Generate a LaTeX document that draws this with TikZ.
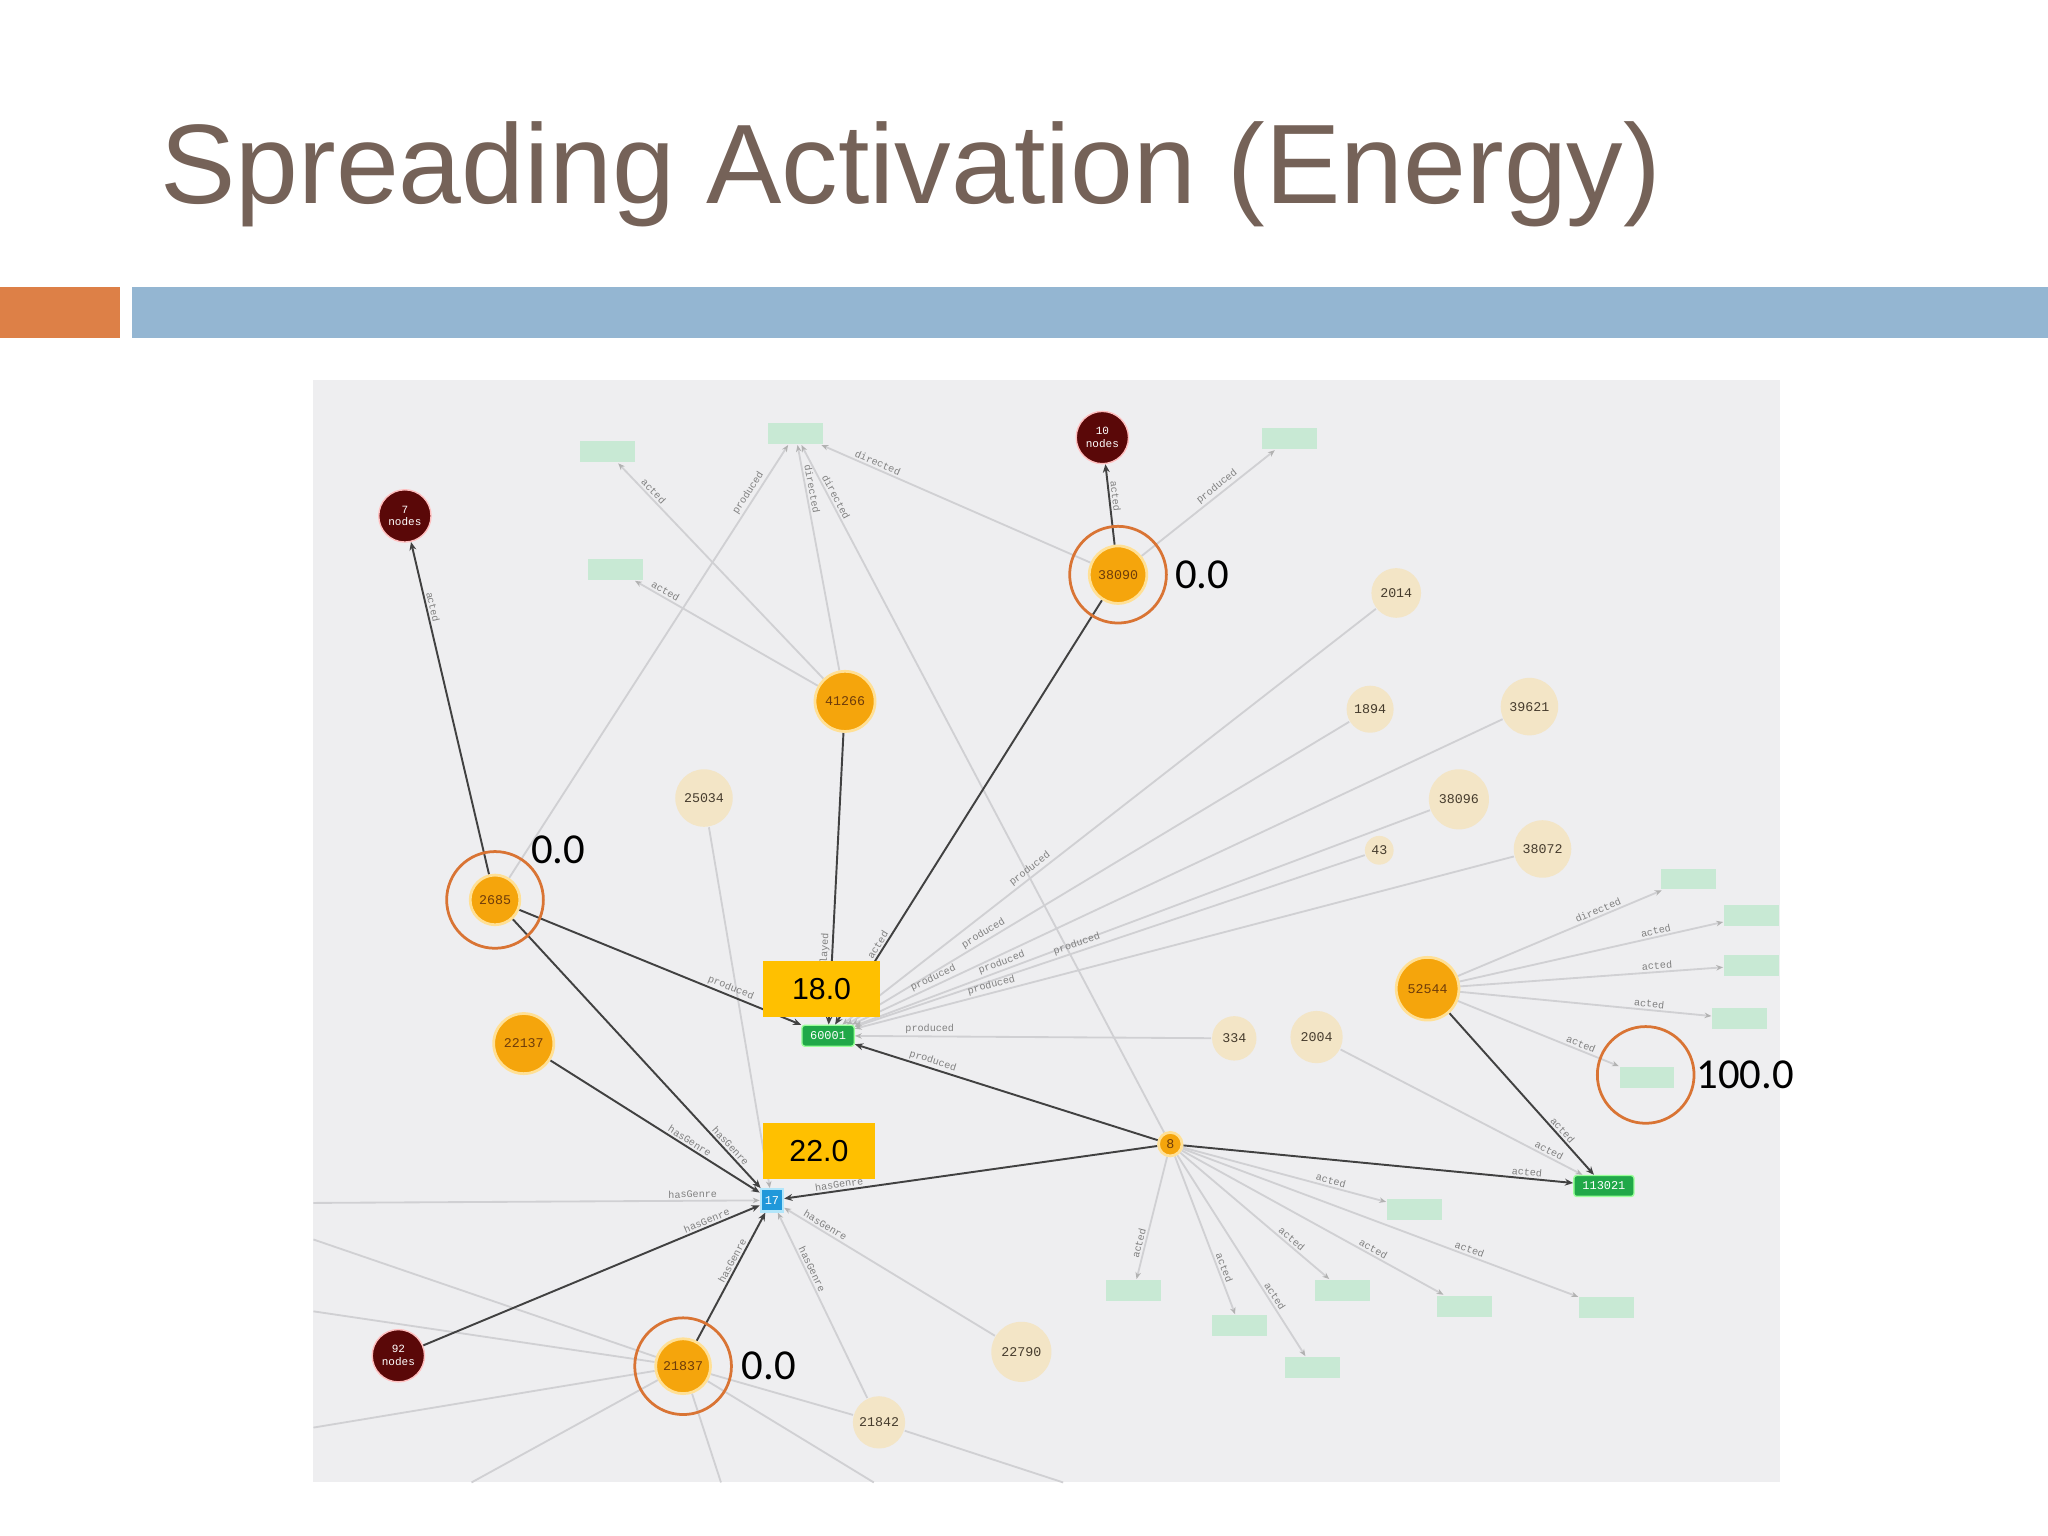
\documentclass[tikz,border=0pt]{standalone}
\usepackage{fontspec}
\setmainfont{Liberation Sans}
\setmonofont{Liberation Mono}
\newfontfamily\calfont{Carlito}
\usetikzlibrary{arrows.meta,positioning}

\definecolor{titlebrown}{RGB}{117,98,88}
\definecolor{barorange}{RGB}{221,128,71}
\definecolor{barblue}{RGB}{148,182,210}
\definecolor{panelgray}{RGB}{238,238,240}
\definecolor{hotfill}{RGB}{245,165,12}
\definecolor{hothalo}{RGB}{255,224,150}
\definecolor{hottext}{RGB}{110,60,10}
\definecolor{coldfill}{RGB}{243,229,198}
\definecolor{coldtext}{RGB}{70,60,45}
\definecolor{clusterred}{RGB}{90,8,8}
\definecolor{filmgreen}{RGB}{32,168,72}
\definecolor{fadedgreen}{RGB}{200,233,212}
\definecolor{genreblue}{RGB}{32,152,218}
\definecolor{ringorange}{RGB}{217,116,52}
\definecolor{markyellow}{RGB}{255,192,0}
\definecolor{edgedark}{RGB}{65,65,65}
\definecolor{edgelight}{RGB}{208,208,211}

\pgfdeclarelayer{panel}
\pgfdeclarelayer{edges}
\pgfsetlayers{panel,edges,main}

\tikzset{
  hot/.style={circle, fill=hotfill, draw=hothalo, line width=0.6pt, inner sep=0pt,
    text=hottext, font=\fontsize{2.9}{3}\selectfont\ttfamily},
  cold/.style={circle, fill=coldfill, inner sep=0pt,
    text=coldtext, font=\fontsize{2.9}{3}\selectfont\ttfamily},
  cluster/.style={circle, fill=clusterred, draw=red!25, line width=0.3pt, inner sep=0pt,
    minimum size=0.4cm, text=white, align=center, font=\fontsize{2.4}{2.8}\selectfont\ttfamily},
  film/.style={rectangle, rounded corners=0.6pt, fill=filmgreen, draw=green!40, line width=0.3pt,
    minimum height=0.16cm, inner sep=0pt, text=white, font=\fontsize{2.6}{3}\selectfont\ttfamily},
  faded/.style={rectangle, fill=fadedgreen, minimum width=0.42cm, minimum height=0.16cm, inner sep=0pt},
  genre/.style={rectangle, fill=genreblue, draw=cyan!30, line width=0.5pt, minimum size=0.17cm,
    inner sep=0pt, text=white, font=\fontsize{2.6}{3}\selectfont\ttfamily},
  hotedge/.style={draw=edgedark, line width=0.42pt, -{Stealth[length=1.8pt,width=1.5pt]}},
  coldedge/.style={draw=edgelight, line width=0.4pt, -{Stealth[length=1.5pt,width=1.2pt,color=gray!60]}},
  coldline/.style={draw=edgelight, line width=0.4pt},
  elabel/.style={sloped, above, inner sep=0.4pt, text=gray, font=\fontsize{2.2}{2.2}\selectfont\ttfamily},
  ring/.style={circle, draw=ringorange, line width=0.6pt, minimum size=0.74cm, inner sep=0pt},
  scoretext/.style={inner sep=0pt, font=\calfont\fontsize{9.3}{10}\selectfont},
  scorebox/.style={fill=markyellow, inner sep=0pt, minimum height=0.43cm, font=\fontsize{6.6}{7}\selectfont}
}

\begin{document}
\begin{tikzpicture}[x=0.01cm,y=-0.01cm]
    \useasboundingbox (0,0) rectangle (1568,1176);

    % slide background and screenshot panel
    \begin{pgfonlayer}{panel}
        \fill[white] (0,0) rectangle (1568,1176);
        \fill[panelgray] (240,291) rectangle (1363,1135);
    \end{pgfonlayer}

    % title and header bars
    \node[anchor=base west, inner sep=0pt, text=titlebrown, font=\fontsize{24.6}{28}\selectfont]
        (title) at (122,156) {Spreading Activation (Energy)};
    \fill[barorange] (0,220) rectangle (92,259);
    \fill[barblue] (101,220) rectangle (1568,259);

    % collapsed clusters
    \node[cluster] (c7)  at (310,395)  {7\\nodes};
    \node[cluster] (c10) at (844,335)  {10\\nodes};
    \node[cluster] (c92) at (305,1038) {92\\nodes};

    % activated nodes
    \node[hot, minimum size=0.44cm] (a38090) at (856,440)  {38090};
    \node[hot, minimum size=0.46cm] (a41266) at (647,537)  {41266};
    \node[hot, minimum size=0.38cm] (a2685)  at (379,689)  {2685};
    \node[hot, minimum size=0.46cm] (a22137) at (401,799)  {22137};
    \node[hot, minimum size=0.42cm] (a21837) at (523,1046) {21837};
    \node[hot, minimum size=0.48cm] (a52544) at (1093,757) {52544};
    \node[hot, minimum size=0.18cm] (a8)     at (896,876)  {8};

    % inactive people (label/x/y/radius)
    \foreach \lab/\x/\y/\r in {25034/539/611/22, 2014/1069/454/19, 1894/1049/543/18,
                               39621/1171/541/22, 38096/1117/612/23, 43/1056/651/11,
                               38072/1181/650/22, 334/945/795/17, 2004/1008/794/20,
                               22790/782/1035/23, 21842/673/1089/20} {
        \pgfmathsetmacro{\d}{0.02*\r}  %diameter in cm
        \node[cold, minimum size=\d cm] (u\lab) at (\x,\y) {\lab};
    }

    % films and genre
    \node[film, minimum width=0.40cm] (m60001)  at (634,793)  {60001};
    \node[film, minimum width=0.46cm] (m113021) at (1228,908) {113021};
    \node[genre] (g17) at (591,919) {17};

    % faded films
    \foreach \i/\x/\y in {1/465/346, 2/609/332, 3/471/436, 4/987/336, 5/1293/673,
                          6/1341/701, 7/1341/739, 8/1332/780, 9/1261/825, 10/1083/926,
                          11/868/988, 12/949/1015, 13/1028/988, 14/1121/1000,
                          15/1005/1047, 16/1230/1001} {
        \node[faded] (f\i) at (\x,\y) {};
    }

    % free ends at the panel border
    \coordinate (e1) at (240,921);
    \coordinate (e2) at (240,949);
    \coordinate (e3) at (240,1004);
    \coordinate (e4) at (240,1093);
    \coordinate (e5) at (361,1135);
    \coordinate (e6) at (552,1135);
    \coordinate (e7) at (669,1135);
    \coordinate (e8) at (814,1135);

    \begin{pgfonlayer}{edges}
        % faint links
        \draw[coldedge] (a41266) -- node[elabel,pos=0.85]{acted} (f1);
        \draw[coldedge] (a41266) -- node[elabel,pos=0.85]{acted} (f3);
        \draw[coldedge] (a41266) -- node[elabel,pos=0.8]{directed} (f2);
        \draw[coldedge] (a2685) -- node[elabel,pos=0.88]{produced} (f2);
        \draw[coldedge] (a38090) -- node[elabel,pos=0.8]{directed} (f2);
        \draw[coldedge] (a8) -- node[elabel,pos=0.92]{directed} (f2);
        \draw[coldedge] (a38090) -- node[elabel,pos=0.6]{produced} (f4);
        \draw[coldedge] (u25034) -- (g17);
        \draw[coldedge] (e1) -- node[elabel,pos=0.85]{hasGenre} (g17);
        \draw[coldedge] (u22790) -- node[elabel,pos=0.82]{hasGenre} (g17);
        \draw[coldedge] (u21842) -- node[elabel,pos=0.68]{hasGenre} (g17);
        %fan of producers into 60001, labels staggered
        \foreach \s/\p in {2014/0.64, 1894/0.72, 39621/0.87, 38096/0.74, 43/0.56, 38072/0.79, 334/0.79}
            \draw[coldedge] (u\s) -- node[elabel,pos=\p]{produced} (m60001);
        \draw[coldedge] (u2004) -- node[elabel,pos=0.85]{acted} (m113021);
        \draw[coldedge] (a52544) -- node[elabel,pos=0.7]{directed} (f5);
        \foreach \t in {6,7,8,9}
            \draw[coldedge] (a52544) -- node[elabel,pos=0.75]{acted} (f\t);
        \foreach \t in {10,...,16}
            \draw[coldedge] (a8) -- node[elabel,pos=0.72]{acted} (f\t);
        \foreach \c in {e2,e3,e4,e5,e6,e7,u21842}
            \draw[coldline] (a21837) -- (\c);
        \draw[coldline] (u21842) -- (e8);

        % links that carry the energy
        \draw[hotedge] (a2685) -- node[elabel,pos=0.8]{acted} (c7);
        \draw[hotedge] (a38090) -- node[elabel,pos=0.6]{acted} (c10);
        \draw[hotedge] (a2685) -- node[elabel,pos=0.74]{produced} (m60001);
        \draw[hotedge] (a41266) -- node[elabel,pos=0.75]{played} (m60001);
        \draw[hotedge] (a38090) -- node[elabel,pos=0.82]{acted} (m60001);
        \draw[hotedge] (a8) -- node[elabel,pos=0.75]{produced} (m60001);
        \draw[hotedge] (a2685) -- node[elabel,pos=0.86]{hasGenre} (g17);
        \draw[hotedge] (a22137) -- node[elabel,pos=0.65]{hasGenre} (g17);
        \draw[hotedge] (a8) -- node[elabel,pos=0.85]{hasGenre} (g17);
        \draw[hotedge] (c92) -- node[elabel,pos=0.85]{hasGenre} (g17);
        \draw[hotedge] (a21837) -- node[elabel,pos=0.6]{hasGenre} (g17);
        \draw[hotedge] (a8) -- node[elabel,pos=0.88]{acted} (m113021);
        \draw[hotedge] (a52544) -- node[elabel,pos=0.75]{acted} (m113021);
    \end{pgfonlayer}

    % energy annotations
    \node[ring] (r38090) at (a38090) {};
    \node[scoretext, right=0.05cm of r38090] {0.0};
    \node[ring] (r2685) at (a2685) {};
    \node[scoretext, anchor=south west] at (r2685.north east) {0.0};
    \node[ring] (r21837) at (a21837) {};
    \node[scoretext, right=0.06cm of r21837] {0.0};
    \node[ring] (rf9) at (1260,823) {};
    \node[scoretext, right=0cm of rf9] {100.0};
    \node[scorebox, minimum width=0.9cm]  (s60001) at (629,757) {18.0};
    \node[scorebox, minimum width=0.86cm] (s17)    at (627,881) {22.0};
\end{tikzpicture}
\end{document}
